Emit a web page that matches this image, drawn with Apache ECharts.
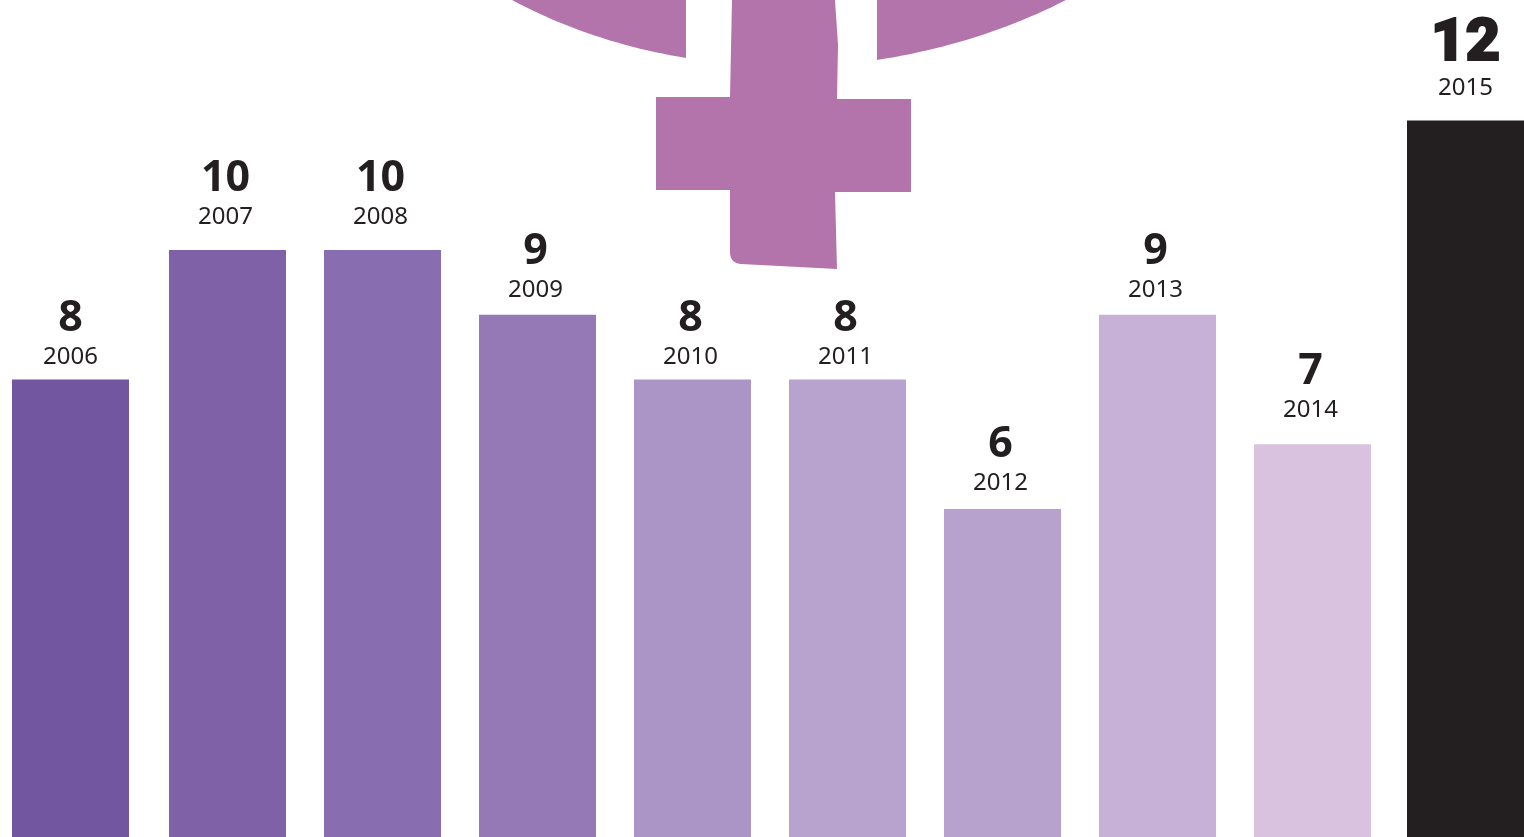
<!DOCTYPE html>
<html>
<head>
<meta charset="utf-8">
<title>Chart</title>
<style>
html, body { margin: 0; padding: 0; background: #fff; }
#chart { width: 1524px; height: 837px; }
</style>
<script src="https://cdn.jsdelivr.net/npm/echarts@6/dist/echarts.min.js"></script>
</head>
<body>
<div id="chart"></div>
<script>
const years = ['2006', '2007', '2008', '2009', '2010', '2011', '2012', '2013', '2014', '2015'];
const counts = [8, 10, 10, 9, 8, 8, 6, 9, 7, 12];
const barColors = ['#7256a0', '#7f61a8', '#886eb0', '#9479b6', '#ab95c6', '#b8a2ce', '#b7a2cd', '#c7b1d6', '#d8c2df', '#231f20'];
// the labels were placed by hand in the original, so the gap above each bar differs
const labelGaps = [6, 17, 17, 9, 6, 6, 10, 9, 18, 16];

const lastIndex = years.length - 1;
const isEnd = (i) => i === 0 || i === lastIndex;

// the first and last bars sit 2px left of the regular spacing, their labels do not move
const makeItem = (i, keep) => {
    if (!keep) return { value: null };
    return {
        value: counts[i],
        itemStyle: { color: barColors[i] },
        label: {
            show: true,
            position: 'top',
            distance: labelGaps[i],
            offset: isEnd(i) ? [0, 0] : [-2, 0],
            formatter: (i === lastIndex ? '{big|' : '{v|') + counts[i] + '}\n{y|' + years[i] + '}',
            rich: {
                v: { fontFamily: 'Noto Sans', fontSize: 43, fontWeight: 700, color: '#231f20', lineHeight: 45, align: 'center' },
                big: {
                    fontFamily: 'Roboto', fontSize: 60, fontWeight: 900, color: '#231f20', lineHeight: 55, align: 'center',
                    textBorderColor: '#231f20', textBorderWidth: 2
                },
                y: { fontFamily: 'Noto Sans', fontSize: 24, color: '#231f20', lineHeight: 32, align: 'center' }
            }
        }
    };
};

// points along a quadratic curve, for the cropped ring of the venus symbol
function curve(p0, c, p1) {
    const pts = [];
    for (let k = 0; k <= 24; k++) {
        const t = k / 24;
        const a = (1 - t) * (1 - t), b = 2 * t * (1 - t), d = t * t;
        pts.push([a * p0[0] + b * c[0] + d * p1[0], a * p0[1] + b * c[1] + d * p1[1]]);
    }
    return pts;
}

const venusFill = { fill: '#b374ac' };

const myChart = echarts.init(document.getElementById('chart'));

const option = {
    animation: false,
    backgroundColor: '#fff',
    grid: { left: -6, top: 0, width: 1550, height: 837, outerBoundsMode: 'none' },
    xAxis: {
        type: 'category',
        data: years,
        axisLine: { show: false },
        axisTick: { show: false },
        axisLabel: { show: false }
    },
    yAxis: {
        type: 'value',
        min: 0.936,
        max: 13.8626,
        axisLine: { show: false },
        axisTick: { show: false },
        axisLabel: { show: false },
        splitLine: { show: false }
    },
    series: [
        {
            type: 'bar',
            barWidth: 117,
            barGap: '-98.3%',
            z: 3,
            data: years.map((y, i) => makeItem(i, isEnd(i)))
        },
        {
            type: 'bar',
            barWidth: 117,
            z: 3,
            data: years.map((y, i) => makeItem(i, !isEnd(i)))
        }
    ],
    graphic: [
        {
            type: 'polygon',
            z: 1,
            shape: { points: curve([512, 0], [590, 42], [686, 58]).concat([[686, 0]]) },
            style: venusFill
        },
        {
            type: 'polygon',
            z: 1,
            shape: { points: curve([877, 60], [980, 44], [1066, 0]).concat([[877, 0]]) },
            style: venusFill
        },
        {
            type: 'polygon',
            z: 1,
            shape: {
                points: [[732, 0], [730, 97], [656, 97], [656, 190], [730, 190], [730, 252]]
                    .concat(curve([730, 252], [730, 263], [741, 264]))
                    .concat([[837, 269], [835, 192], [911, 192], [911, 99], [837, 99], [838, 45], [835, 0]])
            },
            style: venusFill
        }
    ]
};

myChart.setOption(option);
</script>
</body>
</html>
